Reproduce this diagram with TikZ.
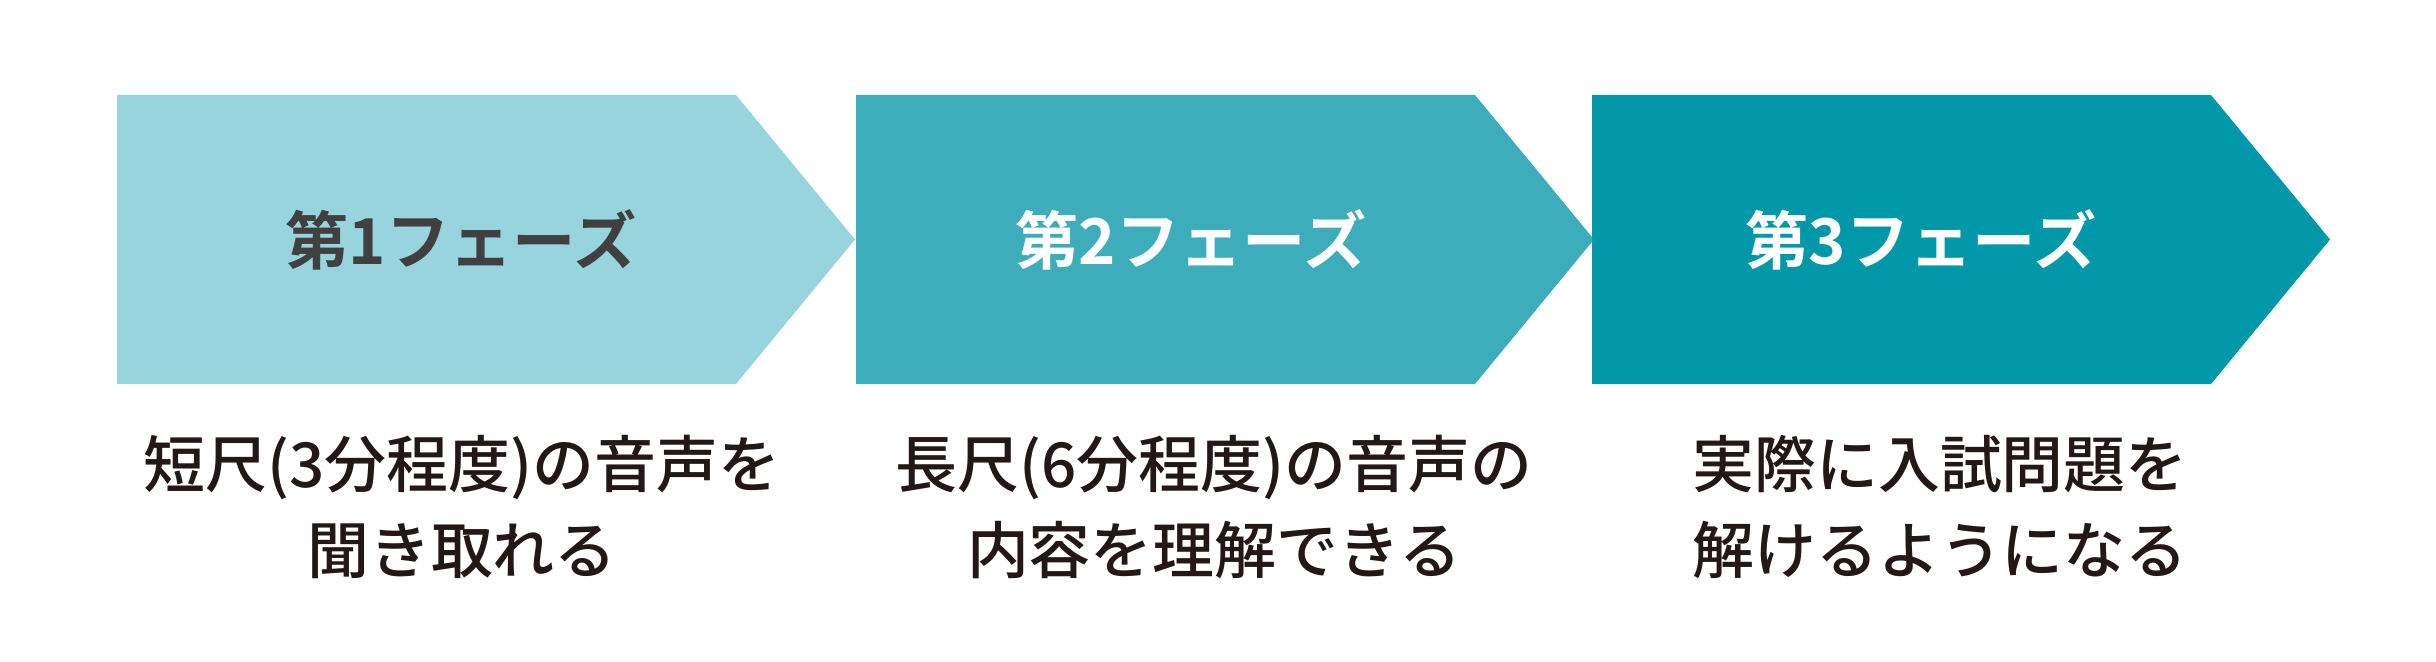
\documentclass[tikz,border=0pt]{standalone}
\usepackage{fontspec}
\newfontfamily\phasefont{Noto Sans CJK JP Bold}
\newfontfamily\notefont{Noto Sans CJK JP Medium}
\usetikzlibrary{positioning}
\definecolor{PhaseOne}{HTML}{98D4DD}
\definecolor{PhaseTwo}{HTML}{3DACBB}
\definecolor{PhaseThree}{HTML}{0097A9}
\definecolor{TitleGrey}{HTML}{404040}
\definecolor{NoteBlack}{HTML}{231815}

\begin{document}
\begin{tikzpicture}[%
    x=0.01cm, y=-0.01cm,%
    phase title/.style={anchor=base, inner sep=0pt, font=\phasefont\fontsize{18}{21}\selectfont},%
    phase note/.style={anchor=base, inner sep=0pt, text=NoteBlack, font=\notefont\fontsize{17.6}{24}\selectfont}%
  ]
  \useasboundingbox (0,0) rectangle (2436,662);

  %
  % Fleches
  %
  \foreach \x/\c in {117/PhaseOne, 856/PhaseTwo, 1592/PhaseThree} {%
      \fill[\c] (\x,95) -- ++(619,0) -- ++(119,144.5) -- ++(-119,144.5) -- ++(-619,0) -- cycle;%
    }%

  % Titres
  \node[phase title, text=TitleGrey] (titre 1) at (461,265) {第1フェーズ};%
  \node[phase title, text=white] (titre 2) at (1191,265) {第2フェーズ};%
  \node[phase title, text=white] (titre 3) at (1921,265) {第3フェーズ};%

  % Notes
  \node[phase note] (note 1a) at (462,488) {短尺(3分程度)の音声を};%
  \node[phase note] (note 1b) at ([yshift=-0.85cm]note 1a.base) {聞き取れる};%
  \node[phase note] (note 2a) at (1214,488) {長尺(6分程度)の音声の};%
  \node[phase note] (note 2b) at ([yshift=-0.85cm]note 2a.base) {内容を理解できる};%
  \node[phase note] (note 3a) at (1940,488) {実際に入試問題を};%
  \node[phase note] (note 3b) at ([yshift=-0.85cm]note 3a.base) {解けるようになる};%
\end{tikzpicture}
\end{document}
